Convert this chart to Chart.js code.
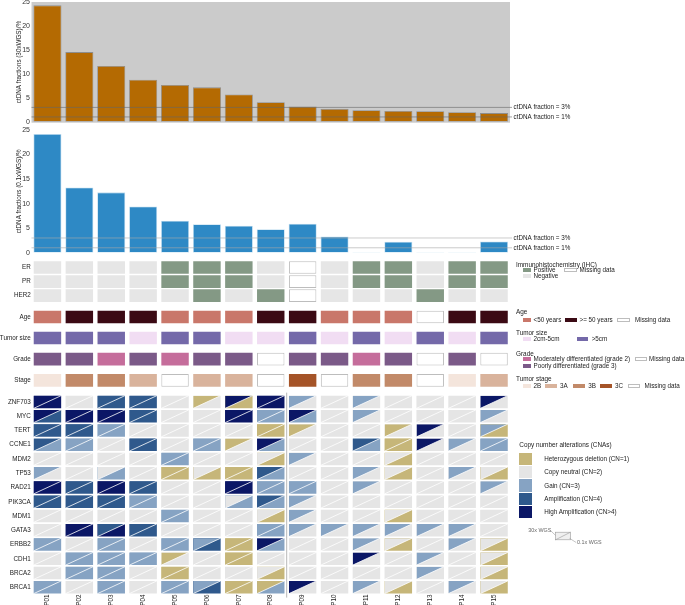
<!DOCTYPE html>
<html><head><meta charset="utf-8">
<script src="https://cdn.jsdelivr.net/npm/chart.js@4/dist/chart.umd.min.js"></script>
<style>
html,body{margin:0;padding:0;background:#fff;width:685px;height:605px;overflow:hidden;position:relative;font-family:'Liberation Sans',Arial,sans-serif;}
canvas{position:absolute;left:0;}
.t{position:absolute;white-space:nowrap;color:#222;line-height:8px;height:8px;}
.s{position:absolute;box-sizing:border-box;}
</style></head><body>
<canvas id="c1" width="685" height="126" style="top:0;width:685px;height:126px"></canvas>
<canvas id="c2" width="685" height="130" style="top:126px;width:685px;height:130px"></canvas>
<canvas id="c3" width="685" height="349" style="top:256px;width:685px;height:349px"></canvas>
<div id="leg"></div>
<svg style="position:absolute;left:0;top:0" width="685" height="605">
  <text x="528.3" y="532" font-size="5.4" fill="#666" font-family="Liberation Sans, Arial, sans-serif">30x WGS</text>
  <line x1="551" y1="531" x2="556.5" y2="536.3" stroke="#888" stroke-width="0.5"/>
  <rect x="555.5" y="532.2" width="15" height="7.6" fill="#F0F0F0" stroke="#999" stroke-width="0.6"/>
  <line x1="555.5" y1="539.8" x2="570.5" y2="532.2" stroke="#999" stroke-width="0.6"/>
  <line x1="569.5" y1="538.3" x2="576.2" y2="542.5" stroke="#888" stroke-width="0.5"/>
  <text x="577" y="544.3" font-size="5.4" fill="#666" font-family="Liberation Sans, Arial, sans-serif">0.1x WGS</text>
</svg>
<script>
// ---------------- data ----------------
const patients = ['P01','P02','P03','P04','P05','P06','P07','P08','P09','P10','P11','P12','P13','P14','P15'];
const ctdna30x = [24.4,14.6,11.7,8.8,7.7,7.2,5.7,4.1,3.2,2.7,2.4,2.25,2.2,2.0,1.8];
const ctdna01x = [24.2,13.3,12.3,9.4,6.5,5.8,5.5,4.8,5.9,3.3,0.1,2.25,0.1,0.1,2.3];
const refValues = [3, 1];
const refLabels = ['ctDNA fraction = 3%', 'ctDNA fraction = 1%'];
const yTicks = [0,5,10,15,20,25];

const er    = ['Neg','Neg','Neg','Neg','Pos','Pos','Pos','Neg','NA','Neg','Pos','Pos','Neg','Pos','Pos'];
const pr    = ['Neg','Neg','Neg','Neg','Pos','Pos','Pos','Neg','NA','Neg','Pos','Pos','Neg','Pos','Pos'];
const her2  = ['Neg','Neg','Neg','Neg','Neg','Pos','Neg','Pos','NA','Neg','Neg','Neg','Pos','Neg','Neg'];
const age   = ['<50','>=50','>=50','>=50','<50','<50','<50','>=50','>=50','<50','<50','<50','NA','>=50','>=50'];
const tumorSize = ['>5','>5','>5','2-5','>5','>5','2-5','2-5','>5','2-5','>5','2-5','>5','2-5','>5'];
const grade = ['3','3','2','3','2','3','3','NA','3','3','2','3','NA','3','NA'];
const stage = ['2B','3B','3B','3A','NA','3A','3A','NA','3C','NA','3B','3B','NA','2B','3A'];

const genes = ['ZNF703','MYC','TERT','CCNE1','MDM2','TP53','RAD21','PIK3CA','MDM1','GATA3','ERBB2','CDH1','BRCA2','BRCA1'];
// copy number per gene (rows) and patient (columns): 30x WGS (upper-left triangle)
const cn30x = [
 [5,2,4,4,2,1,5,5,3,2,3,2,2,2,5],
 [5,5,5,4,2,2,5,3,5,2,3,2,2,2,3],
 [4,4,3,2,2,2,2,1,1,2,2,1,5,2,3],
 [4,3,2,4,2,3,1,5,2,2,4,1,5,3,3],
 [2,2,2,2,3,2,2,2,3,2,2,2,2,2,2],
 [3,2,2,2,1,2,1,4,2,2,3,2,2,3,2],
 [5,4,5,4,2,2,5,3,3,2,3,2,2,2,3],
 [4,4,4,3,2,2,2,4,3,2,2,2,2,2,2],
 [2,2,2,2,3,2,2,2,3,2,2,2,2,2,2],
 [2,5,4,4,2,2,2,3,3,3,3,3,3,3,2],
 [3,2,3,2,3,3,1,5,2,2,3,2,2,3,2],
 [2,3,3,3,1,2,1,2,2,2,5,2,3,2,2],
 [2,3,3,2,1,2,2,2,2,2,2,2,3,2,2],
 [3,2,3,2,3,3,1,1,5,2,3,2,2,3,2]
];
// 0.1x WGS (lower-right triangle)
const cn01x = [
 [5,2,4,4,2,2,1,5,2,2,2,2,2,2,2],
 [4,5,5,4,2,2,5,3,3,2,2,2,2,2,2],
 [4,4,3,2,2,2,2,1,2,2,2,2,2,2,1],
 [3,3,2,4,2,3,2,3,2,2,3,1,2,2,3],
 [2,2,2,2,3,2,2,1,2,2,2,1,2,2,2],
 [2,2,3,2,1,1,1,3,2,2,2,1,2,2,1],
 [5,4,5,4,2,2,5,3,3,2,2,2,2,2,2],
 [4,4,4,3,2,2,3,3,2,2,2,2,2,2,2],
 [2,2,2,2,3,2,2,1,2,2,2,1,2,2,2],
 [2,5,5,4,2,2,2,3,2,2,2,2,2,2,2],
 [3,2,3,2,3,4,1,3,2,2,2,1,2,2,1],
 [2,3,3,3,2,2,1,2,2,2,2,2,2,2,1],
 [2,3,3,2,1,2,2,1,2,2,2,2,2,2,1],
 [3,2,3,2,3,4,1,3,2,2,2,1,2,2,1]
];
const cnLabels = ['Heterozygous deletion (CN=1)','Copy neutral (CN=2)','Gain (CN=3)','Amplification (CN=4)','High Amplification (CN>4)'];

// ---------------- styles ----------------
const FONT = "'Liberation Sans', Arial, sans-serif";
Chart.defaults.font.family = FONT;
Chart.defaults.color = '#333';
const ihcCol = {Pos:'#849985', Neg:'#E6E6E6', NA:'#FFFFFF'};
const ageCol = {'<50':'#C9776A', '>=50':'#3B0A14', NA:'#FFFFFF'};
const sizeCol = {'2-5':'#F1DDF3', '>5':'#7469A9', NA:'#FFFFFF'};
const gradeCol = {'2':'#C56D9B', '3':'#7B5A88', NA:'#FFFFFF'};
const stageCol = {'2B':'#F4E5DC','3A':'#D9B39C','3B':'#C28A69','3C':'#A55428', NA:'#FFFFFF'};
const cnCol = {1:'#C6B679', 2:'#E5E5E5', 3:'#86A3C3', 4:'#2F598C', 5:'#0B1766'};

function refPlugin(lineColor){
  return {
    id:'ref',
    afterDatasetsDraw(chart){
      const {ctx, chartArea:a, scales:{y}} = chart;
      ctx.save();
      refValues.forEach((v,i)=>{
        const py = y.getPixelForValue(v);
        ctx.strokeStyle = lineColor; ctx.lineWidth = 0.6;
        ctx.beginPath(); ctx.moveTo(a.left, py); ctx.lineTo(a.right+2, py); ctx.stroke();
        ctx.fillStyle = '#222'; ctx.font = '6.3px ' + FONT; ctx.textBaseline = 'middle'; ctx.textAlign='left';
        ctx.fillText(refLabels[i], a.right + 3.5, py);
      });
      ctx.restore();
    }
  };
}
const bgPlugin = {
  id:'bg',
  beforeDatasetsDraw(chart, args, opts){
    if(!opts.color) return;
    const {ctx, chartArea:a} = chart;
    ctx.save(); ctx.fillStyle = opts.color;
    ctx.fillRect(a.left, a.top - 0.5, a.right - a.left, a.bottom - a.top + 1.5);
    ctx.restore();
  }
};

function barChart(id, values, color, border, title, padTop, padBottom, bg, lineColor){
  return new Chart(document.getElementById(id), {
    type:'bar',
    data:{ labels: patients, datasets:[{ data: values, backgroundColor: color, borderColor: border, borderWidth: 0.8, borderSkipped:false, barPercentage:0.88, categoryPercentage:1 }]},
    options:{
      responsive:false, animation:false, devicePixelRatio:1,
      layout:{ padding:{ left:15.5, right:175, top:padTop, bottom:padBottom } },
      scales:{
        x:{ display:false },
        y:{ min:0, max:25,
            afterBuildTicks(s){ s.ticks = yTicks.map(v=>({value:v})); },
            ticks:{ font:{size:7}, color:'#333', padding:1.5 },
            grid:{ display:false, drawTicks:false }, border:{ display:false },
            title:{ display:true, text:title, font:{size:6.3}, color:'#222', padding:{top:0,bottom:0} },
            afterFit(s){ s.width = 16; s.paddingTop = 0; s.paddingBottom = 0; } }
      },
      plugins:{ legend:{display:false}, tooltip:{enabled:false}, bg:{ color: bg } }
    },
    plugins:[bgPlugin, refPlugin(lineColor)]
  });
}
barChart('c1', ctdna30x, '#B46A02', '#8E8E8E', 'ctDNA fractions (30xWGS)/%', 2.5, 4.3, '#CBCBCB', '#666');
barChart('c2', ctdna01x, '#2E89C5', '#BFDDF0', 'ctDNA fractions (0.1xWGS)/%', 4, 3.3, null, '#A8A8A8');

// ---------------- heatmap ----------------
const clinRows = [
  {name:'ER', vals:er, col:ihcCol},
  {name:'PR', vals:pr, col:ihcCol},
  {name:'HER2', vals:her2, col:ihcCol},
  {name:'Age', vals:age, col:ageCol},
  {name:'Tumor size', vals:tumorSize, col:sizeCol},
  {name:'Grade', vals:grade, col:gradeCol},
  {name:'Stage', vals:stage, col:stageCol}
];
const clinPos = [0, 1, 2, 3.51, 5.0, 6.5, 8.0];  // row slots (layout)
const cnaStart = 9.54, cnaStep = 1.011, HALF = 0.45;
const rowNames = clinRows.map(r=>r.name).concat(genes);
const rowPos = clinPos.concat(genes.map((g,i)=>cnaStart + i*cnaStep));

const cellData = pos => patients.map(()=>[pos-HALF, pos+HALF]);
const hmDatasets = [];
clinRows.forEach((r,i)=>{
  hmDatasets.push({
    data: cellData(clinPos[i]), order: 0,
    backgroundColor: r.vals.map(v=>r.col[v]),
    borderColor: r.vals.map(v=> v==='NA' ? '#BDBDBD' : 'rgba(0,0,0,0)'),
    borderWidth: r.vals.map(v=> v==='NA' ? 1 : 0)
  });
});
genes.forEach((g,i)=>{
  const pos = cnaStart + i*cnaStep;
  hmDatasets.push({ data: cellData(pos), order: 2, backgroundColor: cn01x[i].map(v=>cnCol[v]), borderWidth:0 });
  hmDatasets.push({ data: cellData(pos), order: 1, backgroundColor: cn30x[i].map(v=>cnCol[v]), borderWidth:0, triClip:true });
});

function elBox(el){
  const p = el.getProps(['x','y','base','width'], true);
  return { l:p.x - p.width/2, r:p.x + p.width/2, t:Math.min(p.y,p.base), b:Math.max(p.y,p.base) };
}
const triPlugin = {
  id:'tri',
  beforeDatasetDraw(chart, args){
    const ds = chart.data.datasets[args.index];
    if(!ds.triClip) return;
    const ctx = chart.ctx; ctx.save(); ctx.beginPath();
    args.meta.data.forEach(el=>{
      const b = elBox(el);
      ctx.moveTo(b.l, b.b); ctx.lineTo(b.l, b.t); ctx.lineTo(b.r, b.t); ctx.closePath();
    });
    ctx.clip();
  },
  afterDatasetDraw(chart, args){
    if(chart.data.datasets[args.index].triClip) chart.ctx.restore();
  },
  afterDatasetsDraw(chart){
    const ctx = chart.ctx; ctx.save();
    ctx.strokeStyle = '#FFFFFF'; ctx.lineWidth = 0.8;
    let top = Infinity, bottom = -Infinity;
    chart.data.datasets.forEach((ds,i)=>{
      if(!ds.triClip) return;
      chart.getDatasetMeta(i).data.forEach(el=>{
        const b = elBox(el);
        top = Math.min(top, b.t); bottom = Math.max(bottom, b.b);
        ctx.beginPath(); ctx.moveTo(b.l, b.b); ctx.lineTo(b.r, b.t); ctx.stroke();
      });
    });
    const xs = chart.scales.x;
    const sx = (xs.getPixelForValue(7) + xs.getPixelForValue(8)) / 2;
    ctx.strokeStyle = '#B8B8B8'; ctx.lineWidth = 1;
    ctx.beginPath(); ctx.moveTo(sx, top - 3); ctx.lineTo(sx, bottom + 4); ctx.stroke();
    ctx.restore();
  }
};

new Chart(document.getElementById('c3'), {
  type:'bar',
  data:{ labels: patients, datasets: hmDatasets },
  options:{
    responsive:false, animation:false, devicePixelRatio:1,
    layout:{ padding:{ left:0, right:175, top:2, bottom:0 } },
    datasets:{ bar:{ grouped:false, barPercentage:0.86, categoryPercentage:1, borderSkipped:false } },
    scales:{
      x:{ type:'category',
          ticks:{ minRotation:90, maxRotation:90, autoSkip:false, font:{size:6.3}, color:'#222', padding:0.5 },
          grid:{ display:false, drawTicks:false }, border:{ display:false },
          afterFit(s){ s.height = 11; s.paddingLeft = 0; s.paddingRight = 0; } },
      y:{ type:'linear', reverse:true, min:-0.674, max:23.16,
          afterBuildTicks(s){ s.ticks = rowPos.map(v=>({value:v})); },
          ticks:{ autoSkip:false, font:{size:6.3}, color:'#222', padding:0.8, callback:(v,i)=>rowNames[i] },
          grid:{ display:false, drawTicks:false }, border:{ display:false },
          afterFit(s){ s.width = 31.5; s.paddingTop = 0; s.paddingBottom = 0; } }
    },
    plugins:{ legend:{display:false}, tooltip:{enabled:false} }
  },
  plugins:[triPlugin]
});

// ---------------- legends (HTML text) ----------------
const leg = document.getElementById('leg');
function txt(x, yc, s, size){
  const d = document.createElement('div'); d.className='t'; d.textContent = s;
  d.style.left = x+'px'; d.style.top = (yc-4)+'px'; d.style.fontSize = (size||6.3)+'px';
  leg.appendChild(d);
}
function sw(x, y, w, h, fill, stroke){
  const d = document.createElement('div'); d.className='s';
  d.style.left=x+'px'; d.style.top=y+'px'; d.style.width=w+'px'; d.style.height=h+'px';
  d.style.background = fill; if(stroke) d.style.border = '0.6px solid '+stroke;
  leg.appendChild(d);
}
const T = 6.4;
// IHC
txt(516, 265, 'Immunohistochemistry (IHC)', T);
sw(523, 268, 7.5, 4, ihcCol.Pos); txt(533.5, 270, 'Positive');
sw(563.5, 268, 13, 4, '#fff', '#BDBDBD'); txt(579.5, 270, 'Missing data');
sw(523, 274, 7.5, 4, ihcCol.Neg); txt(533.5, 276, 'Negative');
// Age
txt(516, 312.3, 'Age', T);
sw(523, 318, 7.5, 4, ageCol['<50']); txt(533.5, 320, '<50 years');
sw(565, 318, 11.5, 4, ageCol['>=50']); txt(579.5, 320, '>= 50 years');
sw(617, 318, 12.5, 4, '#fff', '#BDBDBD'); txt(635, 320, 'Missing data');
// Tumor size
txt(516, 332.7, 'Tumor size', T);
sw(523, 337, 7.5, 4, sizeCol['2-5']); txt(533.5, 339, '2cm-5cm');
sw(576.7, 337, 11.5, 4, sizeCol['>5']); txt(591.7, 339, '>5cm');
// Grade
txt(516, 353.7, 'Grade', T);
sw(523, 357.3, 7.5, 4, gradeCol['2']); txt(533.5, 359.3, 'Moderately differentiated (grade 2)');
sw(634.5, 357.3, 12, 4, '#fff', '#BDBDBD'); txt(649, 359.3, 'Missing data');
sw(523, 363.5, 7.5, 4, gradeCol['3']); txt(533.5, 365.5, 'Poorly differentiated (grade 3)');
// Tumor stage
txt(516, 379, 'Tumor stage', T);
sw(523, 383.5, 7.5, 4, stageCol['2B']); txt(533.5, 385.5, '2B');
sw(545, 383.5, 11.5, 4, stageCol['3A']); txt(560, 385.5, '3A');
sw(573.3, 383.5, 11.5, 4, stageCol['3B']); txt(588.3, 385.5, '3B');
sw(600, 383.5, 11.5, 4, stageCol['3C']); txt(615, 385.5, '3C');
sw(627.5, 383.5, 12.5, 4, '#fff', '#BDBDBD'); txt(644.5, 385.5, 'Missing data');
// CNA
txt(519.3, 445, 'Copy number alterations (CNAs)', 6.4);
cnLabels.forEach((lab,i)=>{
  sw(519.3, 452.7 + i*13.35, 12.3, 12.3, cnCol[i+1]);
  txt(544.3, 459 + i*13.35, lab, 6.3);
});
</script>
</body></html>
